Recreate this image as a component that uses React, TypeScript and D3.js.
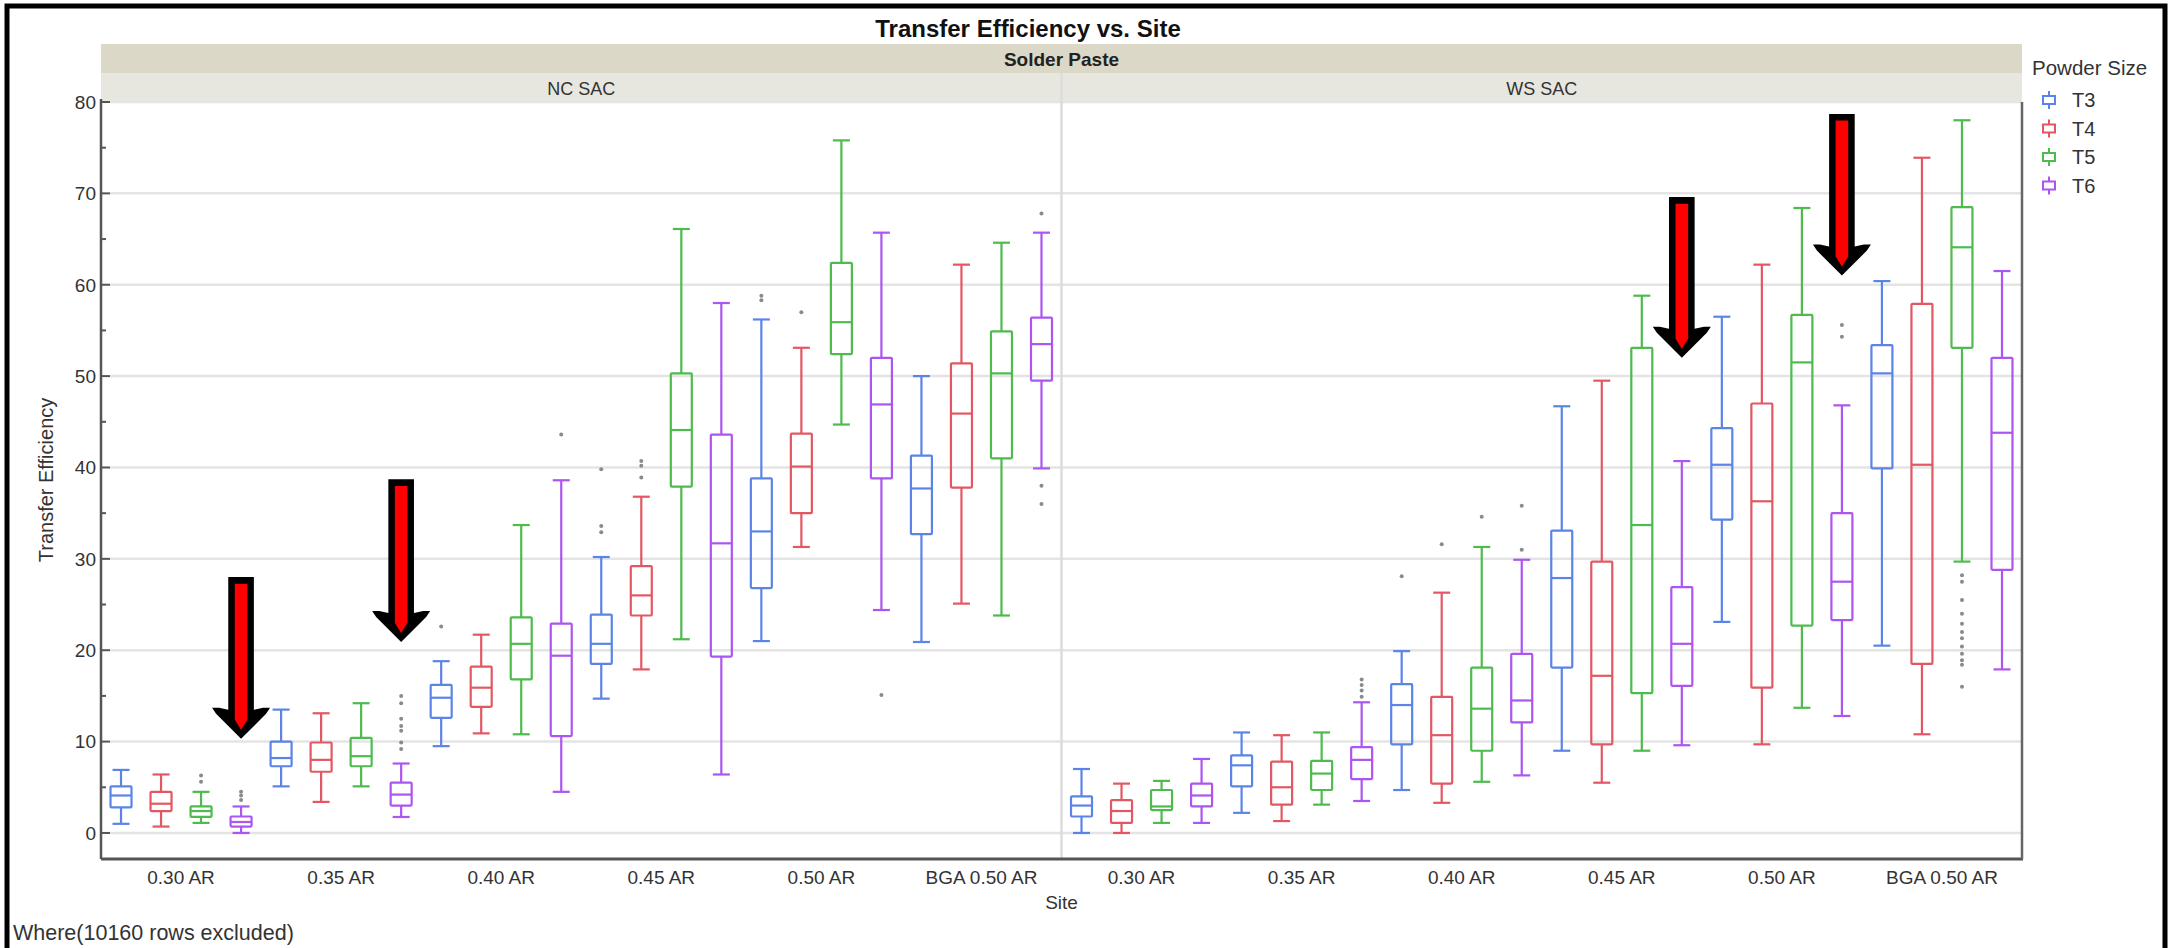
import React from "react";
import * as d3 from "d3";

// categories
const solderPastes = ["NC SAC", "WS SAC"];
const sites = ["0.30 AR", "0.35 AR", "0.40 AR", "0.45 AR", "0.50 AR", "BGA 0.50 AR"];
const powderSizes = ["T3", "T4", "T5", "T6"];
const yTicks = [0, 10, 20, 30, 40, 50, 60, 70, 80];
const yMinorTicks = [5, 15, 25, 35, 45, 55, 65, 75];

// [low whisker, q1, median, q3, high whisker] for each site
const ncT3 = [[1.0, 2.8, 4.1, 5.1, 6.9], [5.1, 7.3, 8.2, 10.0, 13.5], [9.5, 12.6, 14.8, 16.2, 18.8], [14.7, 18.5, 20.7, 23.9, 30.2], [21.0, 26.8, 33.0, 38.8, 56.2], [20.9, 32.7, 37.7, 41.3, 50.0]];
const ncT4 = [[0.7, 2.4, 3.2, 4.5, 6.4], [3.4, 6.7, 8.0, 9.9, 13.1], [10.9, 13.8, 15.9, 18.2, 21.7], [17.9, 23.8, 26.0, 29.2, 36.8], [31.3, 35.0, 40.1, 43.7, 53.1], [25.1, 37.8, 45.9, 51.4, 62.2]];
const ncT5 = [[1.1, 1.75, 2.4, 2.9, 4.5], [5.1, 7.3, 8.4, 10.4, 14.2], [10.8, 16.8, 20.7, 23.6, 33.7], [21.2, 37.9, 44.1, 50.3, 66.1], [44.7, 52.4, 55.9, 62.4, 75.8], [23.8, 41.0, 50.3, 54.9, 64.6]];
const ncT6 = [[0.0, 0.7, 1.2, 1.8, 2.9], [1.75, 3.0, 4.2, 5.5, 7.6], [4.5, 10.6, 19.4, 22.9, 38.6], [6.4, 19.3, 31.7, 43.6, 58.0], [24.4, 38.8, 46.9, 52.0, 65.7], [39.9, 49.5, 53.5, 56.4, 65.7]];
const wsT3 = [[0.0, 1.8, 3.0, 4.0, 7.0], [2.2, 5.1, 7.4, 8.5, 11.0], [4.7, 9.7, 14.0, 16.3, 19.9], [9.0, 18.1, 27.9, 33.1, 46.7], [23.1, 34.3, 40.3, 44.3, 56.5], [20.5, 39.9, 50.3, 53.4, 60.4]];
const wsT4 = [[0.0, 1.1, 2.4, 3.6, 5.4], [1.3, 3.1, 5.0, 7.8, 10.7], [3.3, 5.4, 10.7, 14.9, 26.3], [5.5, 9.7, 17.2, 29.7, 49.5], [9.7, 15.9, 36.3, 47.0, 62.2], [10.8, 18.5, 40.3, 57.9, 73.9]];
const wsT5 = [[1.1, 2.5, 2.9, 4.7, 5.7], [3.1, 4.7, 6.5, 7.9, 11.0], [5.6, 9.0, 13.6, 18.1, 31.3], [9.0, 15.3, 33.7, 53.1, 58.8], [13.7, 22.7, 51.5, 56.7, 68.4], [29.7, 53.1, 64.1, 68.5, 78.0]];
const wsT6 = [[1.1, 2.9, 4.1, 5.4, 8.1], [3.5, 5.9, 8.0, 9.4, 14.3], [6.3, 12.1, 14.5, 19.6, 29.9], [9.6, 16.1, 20.7, 26.9, 40.7], [12.8, 23.3, 27.5, 35.0, 46.8], [17.9, 28.8, 43.8, 52.0, 61.5]];

// outlier points
const ncOutliers = [
  { size: "T3", site: "0.40 AR", values: [22.6] },
  { size: "T3", site: "0.45 AR", values: [39.8, 33.6, 32.9] },
  { size: "T3", site: "0.50 AR", values: [58.8, 58.3] },
  { size: "T4", site: "0.45 AR", values: [40.7, 40.2, 38.9] },
  { size: "T4", site: "0.50 AR", values: [57.0] },
  { size: "T5", site: "0.30 AR", values: [6.3, 5.6] },
  { size: "T6", site: "0.30 AR", values: [4.5, 4.1, 3.6] },
  { size: "T6", site: "0.35 AR", values: [15.0, 14.2, 12.5, 11.7, 11.2, 9.9, 9.2] },
  { size: "T6", site: "0.40 AR", values: [43.6] },
  { size: "T6", site: "0.50 AR", values: [15.1] },
  { size: "T6", site: "BGA 0.50 AR", values: [67.8, 38.0, 36.0] },
];
const wsOutliers = [
  { size: "T3", site: "0.40 AR", values: [28.1] },
  { size: "T4", site: "0.40 AR", values: [31.6] },
  { size: "T5", site: "0.40 AR", values: [34.6] },
  { size: "T6", site: "0.35 AR", values: [16.8, 16.2, 15.6, 14.9] },
  { size: "T6", site: "0.40 AR", values: [35.8, 31.0] },
  { size: "T6", site: "0.50 AR", values: [55.6, 54.3] },
  { size: "T5", site: "BGA 0.50 AR", values: [28.2, 27.5, 25.5, 24.0, 22.9, 22.0, 21.3, 20.4, 19.6, 18.9, 18.4, 16.0] },
];

// red arrows drawn on top, pointing down at T6 boxes (tail value -> tip value)
const arrows = [
  { paste: "NC SAC", site: "0.30 AR", size: "T6", from: 28.0, to: 10.3 },
  { paste: "NC SAC", site: "0.35 AR", size: "T6", from: 38.7, to: 20.9 },
  { paste: "WS SAC", site: "0.45 AR", size: "T6", from: 69.6, to: 52.0 },
  { paste: "WS SAC", site: "0.50 AR", size: "T6", from: 78.7, to: 61.0 },
];

const colors = ["#5b84e8", "#e25862", "#4dbb4d", "#ad55f0"];

const stats: Record<string, number[][][]> = {
  "NC SAC": [ncT3, ncT4, ncT5, ncT6],
  "WS SAC": [wsT3, wsT4, wsT5, wsT6],
};
const outliersBy: Record<string, typeof ncOutliers> = {
  "NC SAC": ncOutliers,
  "WS SAC": wsOutliers,
};

const W = 2179;
const H = 948;
const FONT = "'Liberation Sans', Arial, sans-serif";

const App = () => {
  const plotLeft = 101;
  const plotRight = 2022;
  const plotTop = 102;
  const plotBottom = 859;

  const yScale = d3.scaleLinear().domain([-2.85, 80]).range([plotBottom, plotTop]);
  const pasteScale = d3.scaleBand().domain(solderPastes).range([plotLeft, plotRight]);
  const siteScale = d3.scaleBand().domain(sites).range([0, pasteScale.bandwidth()]);
  const sizeScale = d3.scaleBand().domain(powderSizes).range([0, siteScale.bandwidth()]);
  const colorScale = d3.scaleOrdinal<string, string>().domain(powderSizes).range(colors);

  const boxW = 21;
  const capW = 17;
  const cxOf = (paste: string, site: string, size: string) =>
    (pasteScale(paste) as number) + (siteScale(site) as number) + (sizeScale(size) as number) + sizeScale.bandwidth() / 2;

  const divider = pasteScale("WS SAC") as number;

  return (
    <div style={{ position: "absolute", left: 0, top: 0 }}>
      <svg width={W} height={H} style={{ display: "block", background: "#fff" }} fontFamily={FONT}>
        {/* title */}
        <text x={1028} y={37} textAnchor="middle" fontSize={24} fontWeight="bold" fill="#111">
          Transfer Efficiency vs. Site
        </text>

        {/* strips */}
        <rect x={plotLeft} y={44} width={plotRight - plotLeft} height={29} fill="#dbd8c8" />
        <rect x={plotLeft} y={73} width={plotRight - plotLeft} height={29} fill="#e8e7df" />
        <text x={(plotLeft + plotRight) / 2} y={66} textAnchor="middle" fontSize={19} fontWeight="bold" fill="#222">
          Solder Paste
        </text>
        {solderPastes.map((p) => (
          <text key={p} x={(pasteScale(p) as number) + pasteScale.bandwidth() / 2} y={95} textAnchor="middle" fontSize={18} fill="#333">
            {p}
          </text>
        ))}
        <line x1={plotLeft} x2={plotRight} y1={plotTop} y2={plotTop} stroke="#d6d6d6" strokeWidth={2} />

        {/* grid */}
        {yTicks.map((t) => (
          <line key={t} x1={plotLeft + 9} x2={plotRight} y1={yScale(t)} y2={yScale(t)} stroke="#e4e4e4" strokeWidth={2.5} />
        ))}
        <line x1={divider} x2={divider} y1={73} y2={plotBottom} stroke="#dcdcdc" strokeWidth={2.5} />

        {/* y axis */}
        <line x1={plotLeft} x2={plotLeft} y1={plotTop - 3} y2={plotBottom} stroke="#555" strokeWidth={2.5} />
        {yTicks.map((t) => (
          <g key={t}>
            <line x1={plotLeft} x2={plotLeft + 9} y1={yScale(t)} y2={yScale(t)} stroke="#555" strokeWidth={2} />
            <text x={96} y={yScale(t)} dy="0.36em" textAnchor="end" fontSize={19} fill="#333">
              {t}
            </text>
          </g>
        ))}
        {yMinorTicks.map((t) => (
          <line key={t} x1={plotLeft} x2={plotLeft + 5} y1={yScale(t)} y2={yScale(t)} stroke="#555" strokeWidth={2} />
        ))}
        <text transform="translate(53,480) rotate(-90)" textAnchor="middle" fontSize={20} fill="#333">
          Transfer Efficiency
        </text>

        {/* frame */}
        <line x1={plotLeft} x2={plotRight + 1} y1={plotBottom} y2={plotBottom} stroke="#555" strokeWidth={3} />
        <line x1={plotRight} x2={plotRight} y1={plotTop} y2={plotBottom} stroke="#666" strokeWidth={2.5} />

        {/* x labels */}
        {solderPastes.map((p) =>
          sites.map((s) => (
            <text
              key={p + s}
              x={(pasteScale(p) as number) + (siteScale(s) as number) + siteScale.bandwidth() / 2}
              y={884}
              textAnchor="middle"
              fontSize={19}
              fill="#333"
            >
              {s}
            </text>
          ))
        )}
        <text x={divider} y={909} textAnchor="middle" fontSize={19} fill="#333">
          Site
        </text>
        <text x={13} y={940} fontSize={21.5} fill="#333">
          Where(10160 rows excluded)
        </text>

        {/* boxes */}
        {solderPastes.map((p) =>
          powderSizes.map((sz, k) =>
            sites.map((s, i) => {
              const [lo, q1, med, q3, hi] = stats[p][k][i];
              const cx = cxOf(p, s, sz);
              const c = colorScale(sz);
              return (
                <g key={p + sz + s} stroke={c} strokeWidth={2.2} fill="none">
                  <line x1={cx} x2={cx} y1={yScale(hi)} y2={yScale(q3)} />
                  <line x1={cx} x2={cx} y1={yScale(q1)} y2={yScale(lo)} />
                  <line x1={cx - capW / 2} x2={cx + capW / 2} y1={yScale(hi)} y2={yScale(hi)} />
                  <line x1={cx - capW / 2} x2={cx + capW / 2} y1={yScale(lo)} y2={yScale(lo)} />
                  <rect x={cx - boxW / 2} y={yScale(q3)} width={boxW} height={yScale(q1) - yScale(q3)} rx={1} />
                  <line x1={cx - boxW / 2} x2={cx + boxW / 2} y1={yScale(med)} y2={yScale(med)} />
                </g>
              );
            })
          )
        )}

        {/* outliers */}
        {solderPastes.map((p) =>
          outliersBy[p].map((o) =>
            o.values.map((v, j) => (
              <circle key={p + o.size + o.site + j} cx={cxOf(p, o.site, o.size)} cy={yScale(v)} r={2} fill="#8a8a8a" />
            ))
          )
        )}

        {/* legend */}
        <text x={2032} y={75} fontSize={20.5} fill="#333">
          Powder Size
        </text>
        {powderSizes.map((sz, i) => {
          const by = 107 + i * 28.5;
          const c = colorScale(sz);
          return (
            <g key={sz}>
              <g stroke={c} strokeWidth={2} fill="none">
                <line x1={2049} x2={2049} y1={by - 16} y2={by + 2} />
                <rect x={2043} y={by - 11} width={12} height={8} fill="#fff" />
              </g>
              <text x={2072} y={by} fontSize={20} fill="#333">
                {sz}
              </text>
            </g>
          );
        })}

        {/* arrows */}
        {arrows.map((a, i) => {
          const cx = cxOf(a.paste, a.site, a.size);
          const top = yScale(a.from);
          const tip = yScale(a.to);
          const black = [
            [cx - 12.8, top], [cx + 12.8, top], [cx + 12.8, tip - 29], [cx + 22, tip - 31], [cx + 29, tip - 31],
            [cx + 25, tip - 25], [cx, tip], [cx - 25, tip - 25], [cx - 29, tip - 31], [cx - 22, tip - 31], [cx - 12.8, tip - 29],
          ];
          const red = [
            [cx - 6.3, top + 6.7], [cx + 6.3, top + 6.7], [cx + 6.3, tip - 19], [cx, tip - 9], [cx - 6.3, tip - 19],
          ];
          return (
            <g key={i}>
              <polygon points={black.map((d) => d.join(",")).join(" ")} fill="#000" />
              <polygon points={red.map((d) => d.join(",")).join(" ")} fill="#ff0000" />
            </g>
          );
        })}

        {/* outer border */}
        <path d={`M7,${H} V6 H2165 V${H}`} fill="none" stroke="#000" strokeWidth={5} />
      </svg>
    </div>
  );
};

export default App;
